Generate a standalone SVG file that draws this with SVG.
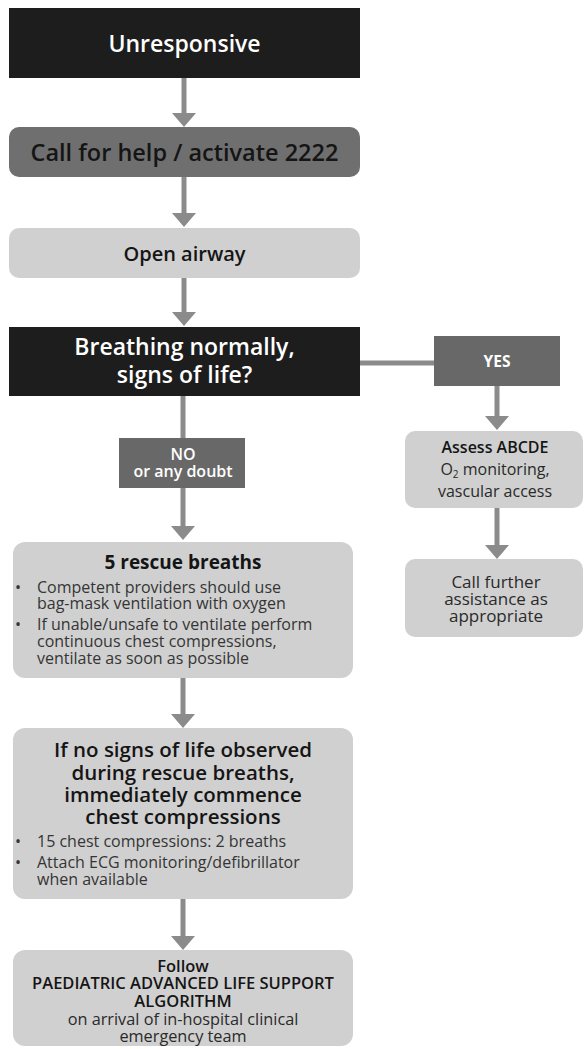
<svg xmlns="http://www.w3.org/2000/svg" width="584" height="1049" viewBox="0 0 584 1049">
<defs>
<marker id="ah" viewBox="0 0 14 24" refX="0" refY="12" markerWidth="14" markerHeight="24" markerUnits="userSpaceOnUse" orient="auto">
<path d="M0,0 L14,12 L0,24 Z" fill="#8b8b8b"/>
</marker>
<style>
text{font-family:"Open Sans","Liberation Sans",sans-serif;}
.dark{fill:#1d1d1d;}
.mid{fill:#6f6f6f;}
.lab{fill:#686868;}
.light{fill:#d0d0d0;}
.wt{fill:#ffffff;font-weight:600;text-anchor:middle;}
.hd{fill:#151515;font-weight:600;text-anchor:middle;}
.bd{fill:#353535;font-size:16px;}
.ct{fill:#2a2a2a;text-anchor:middle;}
.conn{stroke:#8b8b8b;stroke-width:5;fill:none;}
</style>
</defs>
<rect width="584" height="1049" fill="#ffffff"/>
<g id="connectors">
<path class="conn" d="M184,78 V113" marker-end="url(#ah)"/>
<path class="conn" d="M184,177 V213" marker-end="url(#ah)"/>
<path class="conn" d="M184,278 V312" marker-end="url(#ah)"/>
<path class="conn" d="M183,396 V438"/>
<path class="conn" d="M183,488 V526" marker-end="url(#ah)"/>
<path class="conn" d="M360,363 H434"/>
<path class="conn" d="M497,386 V416" marker-end="url(#ah)"/>
<path class="conn" d="M497,508 V545" marker-end="url(#ah)"/>
<path class="conn" d="M183,678 V714" marker-end="url(#ah)"/>
<path class="conn" d="M183,899 V936" marker-end="url(#ah)"/>
</g>
<g id="unresponsive">
<rect class="dark" x="9" y="8" width="351" height="70"/>
<text class="wt" x="184.5" y="52" font-size="23">Unresponsive</text>
</g>
<g id="call-help">
<rect class="mid" x="9" y="127" width="351" height="50" rx="10"/>
<text class="hd" x="184.5" y="161" font-size="23.5">Call for help / activate 2222</text>
</g>
<g id="open-airway">
<rect class="light" x="9" y="228" width="351" height="50" rx="10"/>
<text class="hd" x="184.5" y="261" font-size="20">Open airway</text>
</g>
<g id="breathing">
<rect class="dark" x="9" y="327" width="351" height="69"/>
<text class="wt" font-size="23"><tspan x="184.5" y="355">Breathing normally,</tspan><tspan x="184.5" y="383">signs of life?</tspan></text>
</g>
<g id="yes">
<rect class="lab" x="434" y="336" width="126" height="50"/>
<text class="wt" x="497" y="367" font-size="15.5" style="font-weight:700">YES</text>
</g>
<g id="no">
<rect class="lab" x="119" y="438" width="126" height="50"/>
<text class="wt" font-size="16"><tspan x="183" y="460">NO</tspan><tspan x="183" y="477">or any doubt</tspan></text>
</g>
<g id="assess">
<rect class="light" x="405" y="431" width="178" height="77" rx="10"/>
<text class="hd" x="495" y="453" font-size="16">Assess ABCDE</text>
<text class="ct" font-size="16"><tspan x="495" y="475">O<tspan font-size="10" dy="3">2</tspan><tspan dy="-3"> monitoring,</tspan></tspan><tspan x="495" y="497">vascular access</tspan></text>
</g>
<g id="call-further">
<rect class="light" x="405" y="559" width="178" height="78" rx="10"/>
<text class="ct" font-size="17"><tspan x="496" y="588">Call further</tspan><tspan x="496" y="605">assistance as</tspan><tspan x="496" y="622">appropriate</tspan></text>
</g>
<g id="rescue-breaths">
<rect class="light" x="13" y="542" width="340" height="136" rx="12"/>
<text class="hd" x="183" y="569" font-size="19" style="font-weight:700">5 rescue breaths</text>
<text class="bd" x="15" y="593">•</text>
<text class="bd"><tspan x="37" y="593">Competent providers should use</tspan><tspan x="37" y="609">bag-mask ventilation with oxygen</tspan></text>
<text class="bd" x="15" y="630">•</text>
<text class="bd"><tspan x="37" y="630">If unable/unsafe to ventilate perform</tspan><tspan x="37" y="647">continuous chest compressions,</tspan><tspan x="37" y="664">ventilate as soon as possible</tspan></text>
</g>
<g id="compressions">
<rect class="light" x="13" y="728" width="340" height="171" rx="12"/>
<text class="hd" font-size="20.5"><tspan x="183" y="757">If no signs of life observed</tspan><tspan x="183" y="780">during rescue breaths,</tspan><tspan x="183" y="802">immediately commence</tspan><tspan x="183" y="824">chest compressions</tspan></text>
<text class="bd" x="15" y="847">•</text>
<text class="bd" x="37" y="847">15 chest compressions: 2 breaths</text>
<text class="bd" x="15" y="868">•</text>
<text class="bd"><tspan x="37" y="868">Attach ECG monitoring/defibrillator</tspan><tspan x="37" y="885">when available</tspan></text>
</g>
<g id="follow-pals">
<rect class="light" x="13" y="950" width="340" height="96" rx="12"/>
<text class="hd" font-size="16.5"><tspan x="183" y="972">Follow</tspan><tspan x="183" y="989">PAEDIATRIC ADVANCED LIFE SUPPORT</tspan><tspan x="183" y="1007">ALGORITHM</tspan></text>
<text class="ct" font-size="16.3"><tspan x="183" y="1025">on arrival of in-hospital clinical</tspan><tspan x="183" y="1042">emergency team</tspan></text>
</g>
</svg>
